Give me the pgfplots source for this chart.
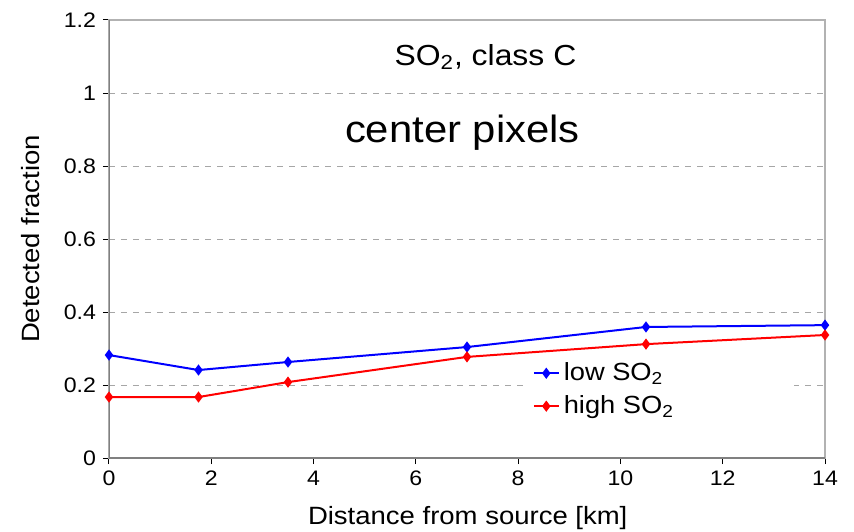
\documentclass[border=0pt]{standalone}
\usepackage{fontspec}
\setmainfont{Liberation Sans}[FakeStretch=1.1]
\usepackage{pgfplots}
\pgfplotsset{compat=1.18}

\begin{document}
\begin{tikzpicture}
\useasboundingbox (-54.5pt,-36.5pt) rectangle (372.5pt,229pt);
\begin{axis}[
    scale only axis, width=358pt, height=219pt,
    xmin=0, xmax=14, ymin=0, ymax=1.2,
    xtick={0,2,4,6,8,10,12,14},
    ytick={0,0.2,0.4,0.6,0.8,1,1.2},
    tick pos=left, tick align=outside, major tick length=3pt,
    major tick style={black, line width=0.5pt},
    axis line style={gray!60, line width=0.7pt},
    ymajorgrids, grid style={gray!70, dashed, line width=0.4pt},
    /pgf/number format/assume math mode=true,
    ticklabel style={font=\fontsize{10.5}{12}\selectfont},
    xlabel={Distance from source [km]},
    ylabel={Detected fraction},
    label style={font=\fontsize{12.5}{14}\selectfont},
    xlabel style={at={(axis description cs:0.501,-0.137)}, anchor=center},
    ylabel style={at={(axis description cs:-0.110,0.5)}, anchor=center},
    legend style={at={(axis cs:8.2,0.284)}, anchor=north west, draw=none,
        fill=none, font=\fontsize{12.4}{14}\selectfont, row sep=2pt,
        inner sep=2pt},
    legend cell align=left,
    legend image code/.code={\draw[mark repeat=2,mark phase=2,#1]
        plot coordinates {(0pt,0pt)(6.25pt,0pt)(12.5pt,0pt)};},
]
\fill[white] (axis cs:8.18,0.104) rectangle (axis cs:13.4,0.268);
\addplot[blue, line width=1pt, mark=diamond*, mark size=2pt] coordinates {
    (0,0.282) (1.75,0.241) (3.5,0.263) (7,0.304) (10.5,0.359) (14,0.364)
};
\addlegendentry{low SO\textsubscript{2}}
\addplot[red, line width=1pt, mark=diamond*, mark size=2pt] coordinates {
    (0,0.167) (1.75,0.167) (3.5,0.208) (7,0.277) (10.5,0.312) (14,0.337)
};
\addlegendentry{high SO\textsubscript{2}}
\draw[gray, line width=1pt] (rel axis cs:0,1) -- (rel axis cs:0,0) -- (rel axis cs:1,0);
\node[font=\fontsize{14.5}{16}\selectfont] at (axis cs:7.36,1.099) {SO\textsubscript{2}, class C};
\node[font=\fontsize{19}{22}\selectfont] at (axis cs:6.91,0.89) {center pixels};
\end{axis}
\end{tikzpicture}
\end{document}
